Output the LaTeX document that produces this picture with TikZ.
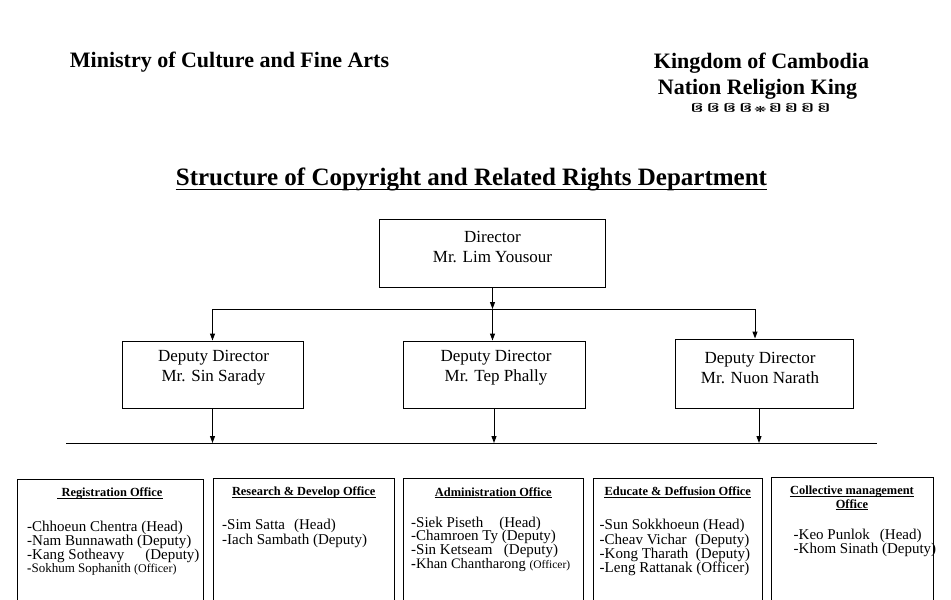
\documentclass[tikz,border=0pt]{standalone}
\usepackage{graphicx}
\usepackage{fontspec}
\setmainfont{Liberation Serif}
\newfontfamily\khmerfont[Script=Khmer]{Battambang}
\newfontfamily\symfont{DejaVu Sans}
\usetikzlibrary{arrows.meta}
\begin{document}
\begin{tikzpicture}[x=1pt,y=-1pt,
  box/.style={draw, line width=1pt, inner sep=0pt},
  txt/.style={inner sep=0pt, align=center, font=\fontsize{17}{20}\selectfont},
  arr/.style={line width=1pt, -{Triangle[length=7pt,width=5pt]}},
  ln/.style={line width=1pt},
  head/.style={inner sep=0pt, anchor=base, font=\fontsize{22}{26}\selectfont\bfseries},
  hdr/.style={inner sep=0pt, anchor=base, font=\fontsize{12.4}{14}\selectfont\bfseries},
  item/.style={inner sep=0pt, anchor=base west, font=\fontsize{15}{15}\selectfont},
  ul/.style={line width=0.9pt}]
\useasboundingbox (0,0) rectangle (951,600);
\clip (0,0) rectangle (951,600);
\fill[white] (0,0) rectangle (951,600);

% top headings
\node[head] (ministry) at (229.5,67) {Ministry of Culture and Fine Arts};
\node[head] (kingdom) at (761.5,68) {Kingdom of Cambodia};
\node[head] (nation) at (757.5,94) {Nation Religion King};
\node[inner sep=0pt, anchor=base, font=\fontsize{21}{22}\selectfont] (orn) at (760.5,112.5) {\scalebox{1.25}[0.68]{\khmerfont ឲឲឲឲ{\symfont\fontsize{12}{12}\selectfont ❋}\reflectbox{ឲឲឲឲ}}};

% title
\node[inner sep=0pt, anchor=base, font=\fontsize{25}{30}\selectfont\bfseries] (title) at (471.5,185) {Structure of Copyright and Related Rights Department};
\draw[line width=1.6pt] ([yshift=-4.5pt]title.base west) -- ([yshift=-4.5pt]title.base east);

% director
\node[box, minimum width=226, minimum height=68] (dir) at (492.5,253) {};
\node[txt] (dirt) at (492.5,247) {Director\\Mr. Lim Yousour};

% deputies
\node[box, minimum width=181, minimum height=67] (dep1) at (212.5,374.5) {};
\node[box, minimum width=182, minimum height=67] (dep2) at (494,374.5) {};
\node[box, minimum width=178, minimum height=69] (dep3) at (764,373.5) {};
\node[txt] (dep1t) at (213.5,368) {Deputy Director\\Mr. Sin Sarady};
\node[txt] (dep2t) at (496,368) {Deputy Director\\Mr. Tep Phally};
\node[txt] (dep3t) at (760,368) {Deputy Director\\Mr. Nuon Narath};

% connectors director -> deputies
\coordinate (h1) at (212.5,309);
\coordinate (h2) at (492.5,309);
\coordinate (h3) at (755,309);
\draw[ln] (h1) -- (h3);
\draw[arr] (dir.south) -- (h2);
\draw[arr] (h1) -- (h1 |- dep1.north);
\draw[arr] (h2) -- (h2 |- dep2.north);
\draw[arr] (h3) -- (h3 |- dep3.north);

% bottom line
\coordinate (b0) at (66,443);
\coordinate (b4) at (877,443);
\coordinate (b3) at (759,443);
\draw[ln] (b0) -- (b4);
\draw[arr] (dep1.south) -- (dep1.south |- b0);
\draw[arr] (dep2.south) -- (dep2.south |- b0);
\draw[arr] (b3 |- dep3.south) -- (b3);

% office boxes
\node[box, anchor=north west, minimum width=186, minimum height=140] (o1) at (17,478.5) {};
\node[box, anchor=north west, minimum width=181, minimum height=140] (o2) at (213,478) {};
\node[box, anchor=north west, minimum width=180, minimum height=140] (o3) at (403,478) {};
\node[box, anchor=north west, minimum width=169, minimum height=140] (o4) at (593,478) {};
\node[box, anchor=north west, minimum width=162, minimum height=140] (o5) at (771,477) {};

% headers
\node[hdr] (o1h) at (112,496.5) {Registration Office};
\node[hdr] (o2h) at (303.7,495.5) {Research \& Develop Office};
\node[hdr] (o3h) at (493.3,496) {Administration Office};
\node[hdr] (o4h) at (677.8,495.5) {Educate \& Deffusion Office};
\node[hdr] (o5h) at (852,494.5) {Collective management};
\node[hdr] (o5h2) at (852,508) {Office};
\draw[ul] ([xshift=-4pt,yshift=-1.8pt]o1h.base west) -- ([yshift=-1.8pt]o1h.base east);
\draw[ul] ([yshift=-1.8pt]o2h.base west) -- ([yshift=-1.8pt]o2h.base east);
\draw[ul] ([yshift=-1.8pt]o3h.base west) -- ([yshift=-1.8pt]o3h.base east);
\draw[ul] ([yshift=-1.8pt]o4h.base west) -- ([yshift=-1.8pt]o4h.base east);
\draw[ul] ([yshift=-1.8pt]o5h.base west) -- ([yshift=-1.8pt]o5h.base east);
\draw[ul] ([yshift=-1.8pt]o5h2.base west) -- ([yshift=-1.8pt]o5h2.base east);

% office 1
\node[item] (o1a) at (27,531.5) {-Chhoeun Chentra (Head)};
\node[item] (o1b) at (27,545.5) {-Nam Bunnawath (Deputy)};
\node[item] (o1c) at (27,559.5) {-Kang Sotheavy\hspace{21pt}(Deputy)};
\node[item, font=\fontsize{13}{13}\selectfont] (o1d) at (27,572.5) {\textbf{-}Sokhum Sophanith {\fontsize{12}{12}\selectfont(Officer)}};

% office 2
\node[item] (o2a) at (222,529.5) {-Sim Satta\hspace{9pt}(Head)};
\node[item] (o2b) at (222,544.5) {-Iach Sambath (Deputy)};

% office 3
\node[item] (o3a) at (411,527) {-Siek Piseth\hspace{16pt}(Head)};
\node[item] (o3b) at (411,540.5) {-Chamroen Ty (Deputy)};
\node[item] (o3c) at (411,554.5) {-Sin Ketseam\hspace{11.5pt}(Deputy)};
\node[item, font=\fontsize{14.5}{14.5}\selectfont] (o3d) at (411,568) {\textbf{-}Khan Chantharong {\fontsize{11.5}{12}\selectfont(Officer)}};

% office 4
\node[item] (o4a) at (599.5,529.5) {-Sun Sokkhoeun (Head)};
\node[item] (o4b) at (599.5,544.5) {-Cheav Vichar\hspace{8.5pt}(Deputy)};
\node[item] (o4c) at (599.5,558.5) {-Kong Tharath\hspace{7.5pt}(Deputy)};
\node[item] (o4d) at (599.5,572.5) {-Leng Rattanak (Officer)};

% office 5
\node[item] (o5a) at (793.5,539.5) {-Keo Punlok\hspace{10pt}(Head)};
\node[item] (o5b) at (793.5,553.5) {-Khom Sinath (Deputy)};
\end{tikzpicture}
\end{document}
